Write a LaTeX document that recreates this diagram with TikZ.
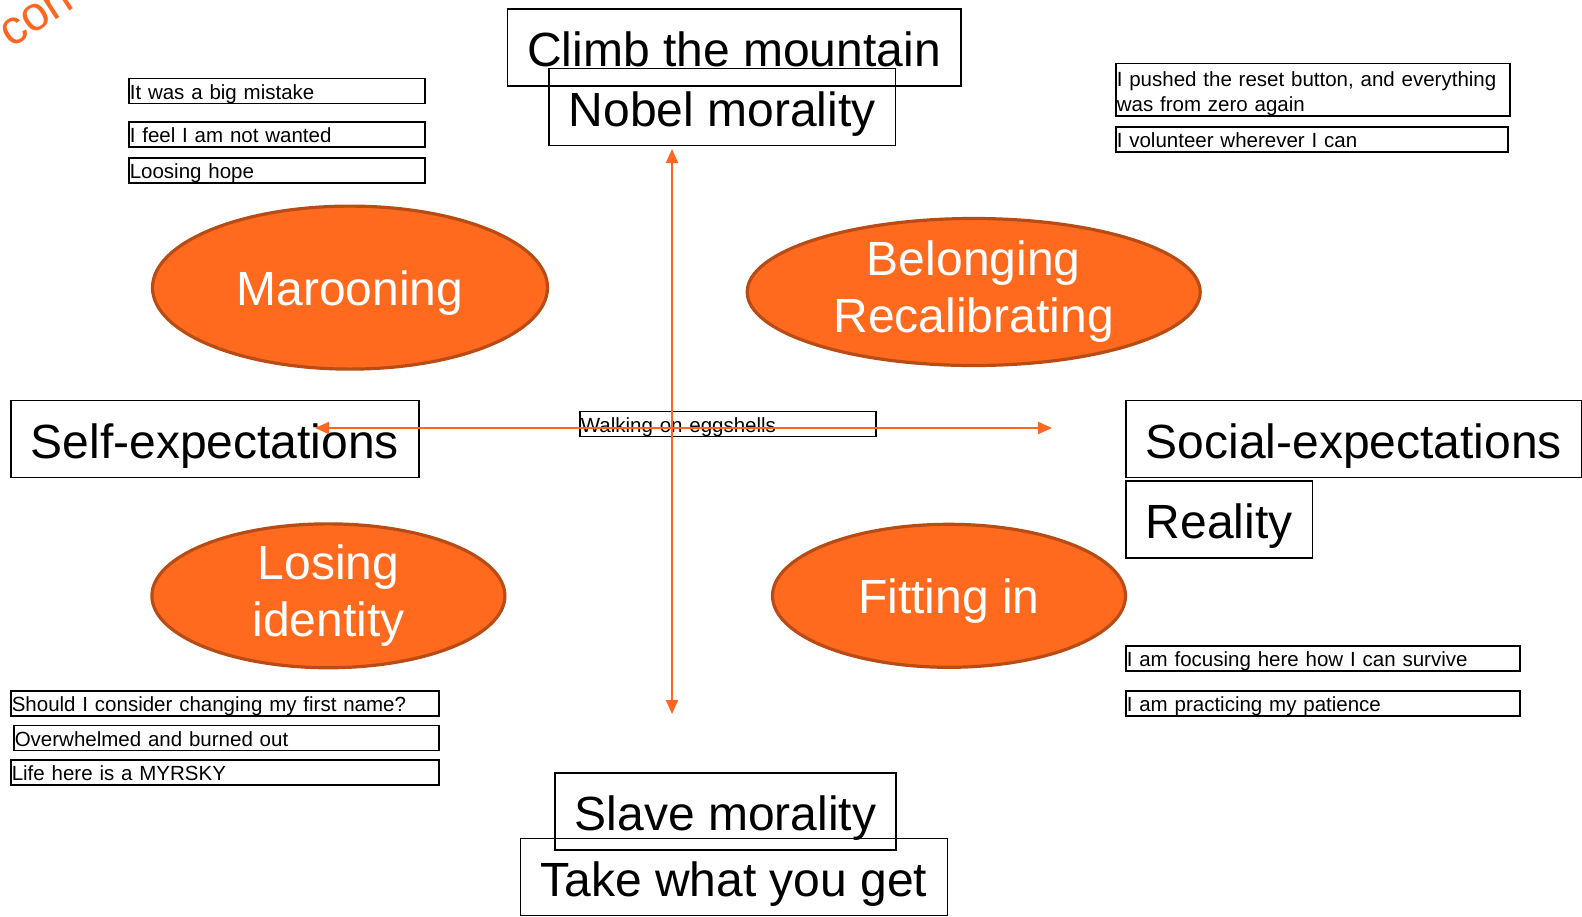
\documentclass[tikz,border=0pt]{standalone}
\usepackage{fontspec}
\setmainfont{Liberation Sans}
\usetikzlibrary{arrows.meta,shapes.geometric}
\definecolor{axisorange}{RGB}{255,102,33}
\definecolor{blobfill}{RGB}{255,106,31}
\definecolor{blobline}{RGB}{185,75,20}
\tikzset{
  bigbox/.style={draw, line width=0.8pt, anchor=north west, inner xsep=10pt, inner ysep=0pt,
    minimum height=38.5pt, text height=21pt, text depth=1.5pt, font=\fontsize{24}{28.8}\selectfont},
  notebox/.style={draw, line width=0.8pt, anchor=north west, inner xsep=0.5pt, inner ysep=0pt,
    minimum height=12.5pt, text height=9.5pt, text depth=1pt, align=left,
    font=\fontsize{10.25}{12.5}\selectfont},
  blob/.style={ellipse, draw=blobline, fill=blobfill, line width=1.6pt, inner sep=0pt,
    text=white, align=center, font=\fontsize{24}{28.5}\selectfont,
    execute at begin node={\rule{0pt}{23pt}}},
  axis/.style={axisorange, line width=1pt, {Triangle[length=7pt,width=6pt]}-{Triangle[length=7pt,width=6pt]}}
}
\begin{document}
\begin{tikzpicture}[x=0.5pt, y=-0.5pt]
            \useasboundingbox (0,0) rectangle (1582,916);
            \clip (0,0) rectangle (1582,916);
            % corner word
            \node[axisorange, anchor=base west, rotate=33, inner sep=0pt,
                  font=\fontsize{24}{28.8}\selectfont] (corner) at (11,49) {con};
            % top
            \node[bigbox] (climb) at (506.5,8) {Climb the mountain};
            \node[bigbox] (nobel) at (548,67.6) {Nobel morality};
            \node[notebox, text width=147pt] (mistake) at (128,77.7) {It was a big mistake};
            \node[notebox, text width=147pt] (unwanted) at (128,121) {I feel I am not wanted};
            \node[notebox, text width=147pt] (hope) at (128,157) {Loosing hope};
            \node[notebox, text width=196pt, minimum height=26.2pt, text depth=12.5pt] (reset) at (1115,62.6)
                {I pushed the reset button, and everything\\was from zero again};
            \node[notebox, text width=195pt] (volunteer) at (1115,126) {I volunteer wherever I can};
            % quadrants
            \node[blob, minimum width=197.5pt, minimum height=81.5pt] (maroon) at (350,287.6) {Marooning};
            \node[blob, minimum width=226.5pt, minimum height=73.5pt] (belong) at (973.7,292) {Belonging\\Recalibrating};
            \node[blob, minimum width=176.5pt, minimum height=71.5pt] (losing) at (328.4,595.8) {Losing\\identity};
            \node[blob, minimum width=176.5pt, minimum height=71.5pt] (fitting) at (949,595.8) {Fitting in};
            % middle
            \node[bigbox] (selfexp) at (10,399.6) {Self-expectations};
            \node[bigbox] (socialexp) at (1125,399.6) {Social-expectations};
            \node[bigbox] (reality) at (1125,480) {Reality};
            \node[notebox, text width=147pt] (eggshells) at (579,410.6) {Walking on eggshells};
            % bottom
            \node[notebox, text width=196pt] (survive) at (1125,645) {I am focusing here how I can survive};
            \node[notebox, text width=196pt] (patience) at (1125,690) {I am practicing my patience};
            \node[notebox, text width=213pt] (firstname) at (10,690) {Should I consider changing my first name?};
            \node[notebox, text width=211.5pt] (burnedout) at (13,724.5) {Overwhelmed and burned out};
            \node[notebox, text width=213pt] (myrsky) at (10,759) {Life here is a MYRSKY};
            \node[bigbox] (slave) at (554,772) {Slave morality};
            \node[bigbox] (takewhat) at (519.6,837.5) {Take what you get};
            % axes
            \coordinate (up) at (672,149);
            \coordinate (down) at (672,714);
            \coordinate (left) at (315,428);
            \coordinate (right) at (1052,428);
            \draw[axis] (down) -- (up);
            \draw[axis] (left) -- (right);
        \end{tikzpicture}
\end{document}
